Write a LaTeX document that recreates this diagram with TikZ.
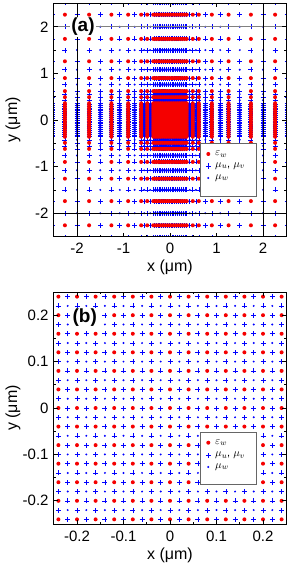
\documentclass[tikz,border=0pt]{standalone}
\usepackage{fontspec}
\setmainfont{Liberation Sans}
\definecolor{mred}{RGB}{245,0,0}
\definecolor{mblue}{RGB}{0,0,255}
\def\Na{-2.26,-1.74,-1.26,-0.90,-0.62,-0.49,-0.36,-0.32,-0.28,-0.24,-0.20,-0.16,-0.12,-0.08,-0.04,0,0.04,0.08,0.12,0.16,0.20,0.24,0.28,0.32,0.36,0.49,0.62,0.90,1.26,1.74,2.26}
\def\Ha{-2.52,-2.00,-1.50,-1.08,-0.76,-0.555,-0.425,-0.34,-0.30,-0.26,-0.22,-0.18,-0.14,-0.10,-0.06,-0.02,0.02,0.06,0.10,0.14,0.18,0.22,0.26,0.30,0.34,0.425,0.555,0.76,1.08,1.50,2.00,2.52}
\def\Nb{-0.24,-0.20,-0.16,-0.12,-0.08,-0.04,0,0.04,0.08,0.12,0.16,0.20,0.24}
\def\Hb{-0.22,-0.18,-0.14,-0.10,-0.06,-0.02,0.02,0.06,0.10,0.14,0.18,0.22}
\tikzset{
  frame/.style={draw=black, line width=0.8pt},
  tickline/.style={draw=black, line width=0.7pt},
  ticklab/.style={inner sep=0pt, font=\fontsize{15}{17}\selectfont},
  axtitle/.style={inner sep=0pt, font=\fontsize{16}{18}\selectfont},
  panlab/.style={fill=white, inner sep=1pt, font=\fontsize{19}{21}\selectfont\bfseries},
  legbox/.style={draw=black!60, line width=0.9pt, fill=white},
  legtext/.style={anchor=west, inner sep=0pt, font=\fontsize{11}{13}\selectfont},
  plusmark/.style={draw=mblue, line width=0.6pt},
  reddot/.style={fill=mred},
  bluedot/.style={fill=mblue},
}
\begin{document}
\begin{tikzpicture}[x=1pt,y=1pt]
\useasboundingbox (0,0) rectangle (291,-564);
% ---------------- panel (a)
\begin{scope}[shift={(170pt,-120pt)}, x=46.5pt, y=46.6pt]
  \begin{scope}
    \clip (-2.5,-2.5) rectangle (2.5,2.5);
    \draw[plusmark] \foreach \x in \Na {\foreach \y in \Ha {(\x,\y) +(-2.5pt,0pt) -- +(2.5pt,0pt) (\x,\y) +(0pt,-2.5pt) -- +(0pt,2.5pt)}};
    \draw[plusmark] \foreach \x in \Ha {\foreach \y in \Na {(\x,\y) +(-2.5pt,0pt) -- +(2.5pt,0pt) (\x,\y) +(0pt,-2.5pt) -- +(0pt,2.5pt)}};
    \fill[bluedot] \foreach \x in \Ha {\foreach \y in \Ha {(\x,\y) circle[radius=1.1pt]}};
    \fill[reddot] \foreach \x in \Na {\foreach \y in \Na {(\x,\y) circle[radius=2pt]}};
    \draw[gray, line width=1.2pt] (-2.5,2) -- (2.5,2);
    \draw[black, line width=0.7pt] (-2.5,-2) -- (2.5,-2) (-2,-2.5) -- (-2,2.5) (2,-2.5) -- (2,2.5);
  \end{scope}
  \draw[frame] (-2.5,-2.5) rectangle (2.5,2.5);
  \foreach \t in {-2,-1,0,1,2} {
    \draw[tickline] (\t,-2.5) -- ++(0pt,4pt) (\t,2.5) -- ++(0pt,-4pt) (-2.5,\t) -- ++(4pt,0pt) (2.5,\t) -- ++(-4pt,0pt);
  }
  \foreach \t in {-1.5,-0.5,0.5,1.5} {
    \draw[tickline] (\t,-2.5) -- ++(0pt,2pt) (\t,2.5) -- ++(0pt,-2pt) (-2.5,\t) -- ++(2pt,0pt) (2.5,\t) -- ++(-2pt,0pt);
  }
  \foreach \t/\s [count=\i] in {-2/-2,-1/-1,0/0,1/1,2/2} {
    \node[ticklab, anchor=east] (aly\i) at ([xshift=-5pt]-2.5,\t) {\s};
    \node[ticklab, anchor=north] (alx\i) at ([yshift=-6pt]\t,-2.5) {\s};
  }
\end{scope}
\node[panlab] (pa) at (83,-27) {(a)};
\node[axtitle] (xta) at (170,-267) {x (μm)};
\node[axtitle, rotate=90] (yta) at (13,-120) {y (μm)};
% legend (a)
\path[legbox] (200,-143.3) rectangle (256,-196);
\fill[mred] (208.3,-154) circle[radius=2pt];
\draw[plusmark] (208.3,-166) +(-2.5pt,0pt) -- +(2.5pt,0pt) (208.3,-166) +(0pt,-2.5pt) -- +(0pt,2.5pt);
\fill[mblue] (208.3,-178) circle[radius=1.1pt];
\node[legtext] (la1) at (215,-154) {$\varepsilon_w$};
\node[legtext] (la2) at (215,-166) {$\mu_u$, $\mu_v$};
\node[legtext] (la3) at (215,-178) {$\mu_w$};
% ---------------- panel (b)
\begin{scope}[shift={(170pt,-408pt)}, x=465pt, y=464pt]
  \begin{scope}
    \clip (-0.25,-0.25) rectangle (0.25,0.25);
    \draw[plusmark] \foreach \x in \Nb {\foreach \y in \Hb {(\x,\y) +(-2.5pt,0pt) -- +(2.5pt,0pt) (\x,\y) +(0pt,-2.5pt) -- +(0pt,2.5pt)}};
    \draw[plusmark] \foreach \x in \Hb {\foreach \y in \Nb {(\x,\y) +(-2.5pt,0pt) -- +(2.5pt,0pt) (\x,\y) +(0pt,-2.5pt) -- +(0pt,2.5pt)}};
    \fill[bluedot] \foreach \x in \Hb {\foreach \y in \Hb {(\x,\y) circle[radius=1.1pt]}};
    \fill[reddot] \foreach \x in \Nb {\foreach \y in \Nb {(\x,\y) circle[radius=2pt]}};
  \end{scope}
  \draw[frame] (-0.25,-0.25) rectangle (0.25,0.25);
  \foreach \t in {-0.2,-0.1,0,0.1,0.2} {
    \draw[tickline] (\t,-0.25) -- ++(0pt,4pt) (\t,0.25) -- ++(0pt,-4pt) (-0.25,\t) -- ++(4pt,0pt) (0.25,\t) -- ++(-4pt,0pt);
  }
  \foreach \t in {-0.15,-0.05,0.05,0.15} {
    \draw[tickline] (\t,-0.25) -- ++(0pt,2pt) (\t,0.25) -- ++(0pt,-2pt) (-0.25,\t) -- ++(2pt,0pt) (0.25,\t) -- ++(-2pt,0pt);
  }
  \foreach \t/\s [count=\i] in {-0.2/-0.2,-0.1/-0.1,0/0,0.1/0.1,0.2/0.2} {
    \node[ticklab, anchor=east] (bly\i) at ([xshift=-5pt]-0.25,\t) {\s};
    \node[ticklab, anchor=north] (blx\i) at ([yshift=-6.5pt]\t,-0.25) {\s};
  }
\end{scope}
\node[panlab] (pb) at (84.7,-317.5) {(b)};
\node[axtitle] (xtb) at (170,-555.3) {x (μm)};
\node[axtitle, rotate=90] (ytb) at (13,-408) {y (μm)};
% legend (b)
\path[legbox] (200.7,-432) rectangle (256,-484.7);
\fill[mred] (208.3,-442.7) circle[radius=2pt];
\draw[plusmark] (208.3,-455.3) +(-2.5pt,0pt) -- +(2.5pt,0pt) (208.3,-455.3) +(0pt,-2.5pt) -- +(0pt,2.5pt);
\fill[mblue] (208.3,-467) circle[radius=1.1pt];
\node[legtext] (lb1) at (215,-442.7) {$\varepsilon_w$};
\node[legtext] (lb2) at (215,-455.3) {$\mu_u$, $\mu_v$};
\node[legtext] (lb3) at (215,-467) {$\mu_w$};
\end{tikzpicture}
\end{document}
